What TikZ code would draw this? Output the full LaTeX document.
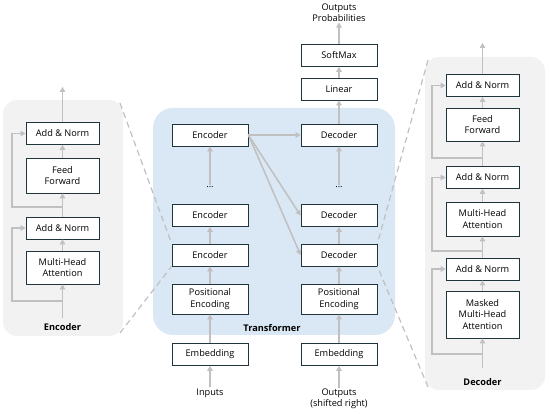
\documentclass[tikz,border=0pt]{standalone}
\usepackage{fontspec}
\setmainfont{Open Sans}
\usetikzlibrary{arrows.meta}
\definecolor{boxline}{RGB}{32,52,62}
\definecolor{flow}{RGB}{192,192,192}
\definecolor{panelblue}{RGB}{218,231,244}
\definecolor{panelgray}{RGB}{242,242,242}
\tikzset{
	block/.style={draw=boxline, line width=0.8pt, fill=white, minimum width=76pt, minimum height=22pt, inner sep=0pt, align=center, font=\fontsize{9.2}{11.3}\selectfont},
	subblock/.style={block, minimum width=73pt},
	plain/.style={inner sep=1pt, align=center, font=\fontsize{9.2}{11}\selectfont},
	title/.style={inner sep=1pt, font=\fontsize{9.2}{11}\selectfont\bfseries},
	flowline/.style={draw=flow, line width=1.5pt, -{Triangle[length=5pt,width=5.5pt]}},
	zoomline/.style={draw=flow, line width=1.2pt, dash pattern=on 6pt off 4pt}
}

\begin{document}
\begin{tikzpicture}[x=1pt, y=-1pt]
			%%%%% START %%%%%
			\useasboundingbox (0, 0) rectangle (550, 414);
			
			% panels
			\fill[panelgray, rounded corners=14pt] (3, 100) rectangle (123, 336);
			\fill[panelgray, rounded corners=14pt] (425, 57) rectangle (545, 390);
			\fill[panelblue, rounded corners=20pt] (153, 108) rectangle (395, 335);
			
			% transformer, encoder side
			\node[block] (enc3) at (210, 135) {Encoder};
			\node[plain] (dotsL) at (210, 187) {...};
			\node[block] (enc2) at (210, 215.5) {Encoder};
			\node[block] (enc1) at (210, 255) {Encoder};
			\node[block, minimum height=30pt] (posL) at (210, 299) {Positional\\Encoding};
			\node[block] (embL) at (210, 354.5) {Embedding};
			\node[plain] (inputs) at (210, 393) {Inputs};
			
			% transformer, decoder side
			\node[block] (dec3) at (339, 135) {Decoder};
			\node[plain] (dotsR) at (339, 187) {...};
			\node[block] (dec2) at (339, 215.5) {Decoder};
			\node[block] (dec1) at (339, 255) {Decoder};
			\node[block, minimum height=30pt] (posR) at (339, 299) {Positional\\Encoding};
			\node[block] (embR) at (339, 354.5) {Embedding};
			\node[plain] (outputs) at (339, 399) {Outputs\\(shifted right)};
			\node[block] (linear) at (339, 89) {Linear};
			\node[block] (softmax) at (339, 55.5) {SoftMax};
			\node[plain] (probs) at (339, 12.5) {Outputs\\Probabilities};
			\node[title] (trans) at (272, 328) {Transformer};
			
			% encoder detail
			\node[subblock] (eNorm2) at (62.5, 133.5) {Add \& Norm};
			\node[subblock, minimum height=35pt] (eFF) at (62.5, 175.5) {Feed\\Forward};
			\node[subblock] (eNorm1) at (62.5, 228) {Add \& Norm};
			\node[subblock, minimum height=33pt] (eMHA) at (62.5, 267.5) {Multi-Head\\Attention};
			\node[title] (eTitle) at (62.5, 327) {Encoder};
			\coordinate (eIn) at (62.5, 318);
			\coordinate (eOut) at (62.5, 87);
			\coordinate (eRes1) at (62.5, 301);
			\coordinate (eRes2) at (62.5, 207);
			
			% decoder detail
			\node[subblock] (dNorm3) at (482.5, 85.5) {Add \& Norm};
			\node[subblock, minimum height=33pt] (dFF) at (482.5, 124.5) {Feed\\Forward};
			\node[subblock] (dNorm2) at (482.5, 177.5) {Add \& Norm};
			\node[subblock, minimum height=34pt] (dMHA) at (482.5, 219) {Multi-Head\\Attention};
			\node[subblock] (dNorm1) at (482.5, 269) {Add \& Norm};
			\node[subblock, minimum height=47pt] (dMask) at (482.5, 314.5) {Masked\\Multi-Head\\Attention};
			\node[title] (dTitle) at (482.5, 382) {Decoder};
			\coordinate (dIn) at (482.5, 368);
			\coordinate (dOut) at (482.5, 43);
			\coordinate (dRes1) at (482.5, 354);
			\coordinate (dRes2) at (482.5, 251);
			\coordinate (dRes3) at (482.5, 158);
			
			% zoom lines
			\coordinate (ePanelTop) at (120, 103);
			\coordinate (ePanelBot) at (120, 333);
			\coordinate (dPanelTop) at (428, 60);
			\coordinate (dPanelBot) at (428, 387);
			\draw[zoomline] (ePanelTop) -- (enc1.north west);
			\draw[zoomline] (ePanelBot) -- (enc1.south west);
			\draw[zoomline] (dPanelTop) -- (dec1.north east);
			\draw[zoomline] (dPanelBot) -- (dec1.south east);
			
			% transformer flow
			\draw[flowline] (inputs) -- (embL);
			\draw[flowline] (embL) -- (posL);
			\draw[flowline] (posL) -- (enc1);
			\draw[flowline] (enc1) -- (enc2);
			\draw[flowline] (dotsL) -- (enc3);
			\draw[flowline] (outputs) -- (embR);
			\draw[flowline] (embR) -- (posR);
			\draw[flowline] (posR) -- (dec1);
			\draw[flowline] (dec1) -- (dec2);
			\draw[flowline] (dotsR) -- (dec3);
			\draw[flowline] (dec3) -- (linear);
			\draw[flowline] (linear) -- (softmax);
			\draw[flowline] (softmax) -- (probs);
			\draw[flowline] (enc3.east) -- (dec3.west);
			\draw[flowline] (enc3.east) -- (dec2.west);
			\draw[flowline] (enc3.east) -- (dec1.west);
			
			% encoder flow
			\draw[flowline] (eIn) -- (eMHA);
			\draw[flowline] (eMHA) -- (eNorm1);
			\draw[flowline] (eNorm1) -- (eFF);
			\draw[flowline] (eFF) -- (eNorm2);
			\draw[flowline] (eNorm2) -- (eOut);
			\draw[flowline] (eRes1) -- ++(-50.5, 0) |- (eNorm1.west);
			\draw[flowline] (eRes2) -- ++(-50.5, 0) |- (eNorm2.west);
			
			% decoder flow
			\draw[flowline] (dIn) -- (dMask);
			\draw[flowline] (dMask) -- (dNorm1);
			\draw[flowline] (dNorm1) -- (dMHA);
			\draw[flowline] (dMHA) -- (dNorm2);
			\draw[flowline] (dNorm2) -- (dFF);
			\draw[flowline] (dFF) -- (dNorm3);
			\draw[flowline] (dNorm3) -- (dOut);
			\draw[flowline] (dRes1) -- ++(-50.5, 0) |- (dNorm1.west);
			\draw[flowline] (dRes2) -- ++(-50.5, 0) |- (dNorm2.west);
			\draw[flowline] (dRes3) -- ++(-50.5, 0) |- (dNorm3.west);
			
			%%%%% END %%%%%
\end{tikzpicture}
\end{document}
